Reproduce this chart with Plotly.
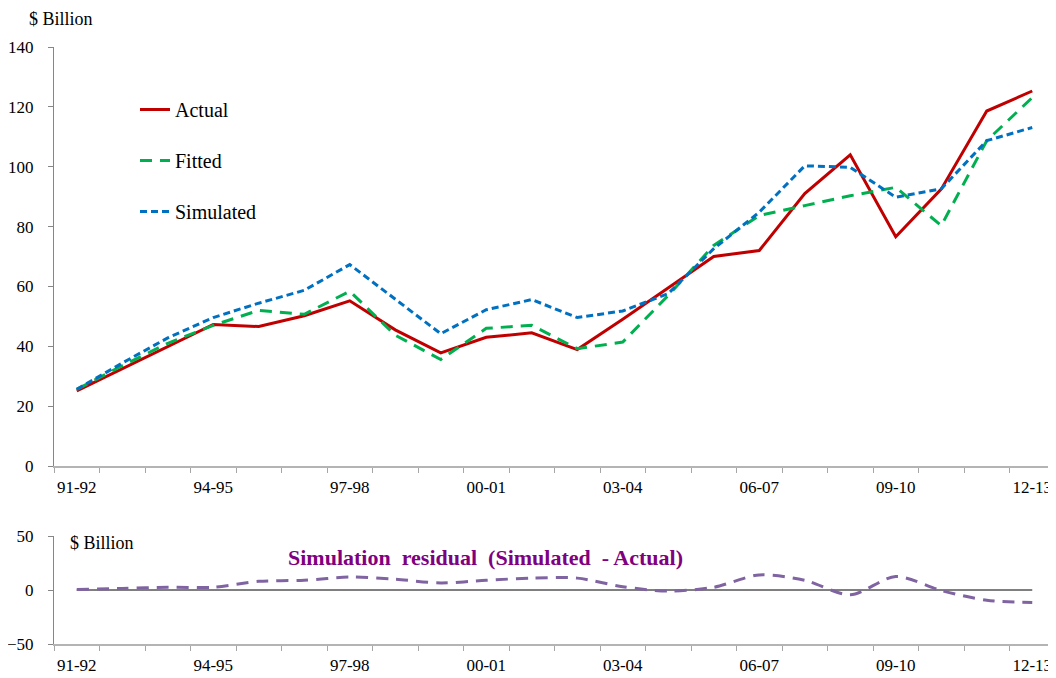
import plotly.graph_objects as go

categories = ["91-92", "92-93", "93-94", "94-95", "95-96", "96-97", "97-98", "98-99",
              "99-00", "00-01", "01-02", "02-03", "03-04", "04-05", "05-06", "06-07",
              "07-08", "08-09", "09-10", "10-11", "11-12", "12-13"]
tick_labels = ["91-92", "", "", "94-95", "", "", "97-98", "", "", "00-01", "", "",
               "03-04", "", "", "06-07", "", "", "09-10", "", "", "12-13"]

actual = [25.1, 32.5, 40.0, 47.3, 46.6, 50.2, 55.2, 45.5, 37.8, 43.0, 44.5, 38.9,
          49.0, 59.5, 70.0, 72.0, 91.0, 104.0, 76.6, 92.5, 118.6, 125.3]
fitted = [25.6, 33.5, 41.0, 47.0, 52.0, 50.7, 58.4, 43.7, 35.6, 46.0, 47.0, 39.2,
          41.4, 57.0, 73.7, 83.7, 87.0, 90.3, 93.1, 80.3, 108.7, 123.1]
simulated = [25.6, 34.4, 42.8, 49.6, 54.4, 58.7, 67.3, 55.8, 44.2, 52.2, 55.6, 49.6,
             51.8, 57.6, 72.6, 84.8, 100.3, 99.8, 89.8, 92.6, 108.7, 113.1]
residual = [0.5, 1.5, 2.5, 2.5, 8.0, 9.0, 12.0, 10.0, 6.5, 9.0, 11.0, 11.0,
            3.0, -1.0, 2.5, 14.0, 9.0, -4.5, 12.5, -0.5, -9.5, -11.5]
baseline = [0, 0, 0, 0, 0, 0, 0, 0, 0, 0, 0, 0, 0, 0, 0, 0, 0, 0, 0, 0, 0, 0]

# page has an 8px body margin: the figure starts at (8, 8)
OFF = 8
W, H = 1056 - OFF, 678 - OFF
ML, MR, MT, MB = 54 - OFF, 1, 47 - OFF, 34
PW = W - ML - MR
PH = H - MT - MB


def px_x(page_x):
    return (page_x - OFF - ML) / PW


def px_y(page_y):
    return (H - MB - (page_y - OFF)) / PH


FONT = "Liberation Serif"

fig = go.Figure()
fig.add_trace(go.Scatter(x=categories, y=actual, name="Actual", mode="lines",
                         line=dict(color="#C00000", width=3), legendgroup="a",
                         xaxis="x", yaxis="y"))
fig.add_trace(go.Scatter(x=categories, y=fitted, name="Fitted", mode="lines",
                         line=dict(color="#00B050", width=3, dash="12px,8px"),
                         legendgroup="b", xaxis="x", yaxis="y"))
fig.add_trace(go.Scatter(x=categories, y=simulated, name="Simulated", mode="lines",
                         line=dict(color="#0070C0", width=3, dash="7px,4px"),
                         legendgroup="c", xaxis="x", yaxis="y"))
fig.add_trace(go.Scatter(x=categories, y=baseline, mode="lines", showlegend=False,
                         line=dict(color="#000000", width=1), xaxis="x2", yaxis="y2"))
fig.add_trace(go.Scatter(x=categories, y=residual, mode="lines", showlegend=False,
                         line=dict(color="#8064A2", width=3, dash="12px,8px",
                                   shape="spline", smoothing=0.8),
                         xaxis="x2", yaxis="y2"))

top_lo = px_y(466)
bot_hi = px_y(536)

xaxis_common = dict(
    type="category", categoryorder="array", categoryarray=categories,
    tickmode="array", tickvals=categories, ticktext=tick_labels, tickangle=0,
    tickson="boundaries", ticks="outside", ticklen=5, tickcolor="#A6A6A6",
    showline=True, linecolor="#B4B4B4", linewidth=2, showgrid=False, zeroline=False,
    range=[-0.5, 21.5], tickfont=dict(family=FONT, size=17, color="#000000"),
    domain=[0, 1], ticklabelstandoff=5,
)
yaxis_common = dict(
    ticks="outside", ticklen=5, tickcolor="#868686", showline=True,
    linecolor="#868686", linewidth=1, showgrid=False, zeroline=False,
    tickfont=dict(family=FONT, size=17, color="#000000"), ticklabelstandoff=11,
)

fig.update_layout(
    width=W, height=H,
    margin=dict(l=ML, r=MR, t=MT, b=MB, autoexpand=False),
    paper_bgcolor="white", plot_bgcolor="white",
    xaxis=dict(**xaxis_common, anchor="y"),
    xaxis2=dict(**xaxis_common, anchor="y2"),
    yaxis=dict(**yaxis_common, domain=[top_lo, 1], range=[0, 140], dtick=20, anchor="x"),
    yaxis2=dict(**yaxis_common, domain=[0, bot_hi], range=[-50, 50], dtick=50, anchor="x2"),
    showlegend=True,
    legend=dict(x=px_x(135), y=px_y(90), xanchor="left", yanchor="top",
                font=dict(family=FONT, size=20, color="#000000"),
                tracegroupgap=22, bgcolor="rgba(0,0,0,0)", traceorder="grouped"),
    annotations=[
        dict(text="$ Billion", xref="paper", yref="paper", x=px_x(27), y=px_y(19),
             xanchor="left", yanchor="middle", showarrow=False,
             font=dict(family=FONT, size=18, color="#000000")),
        dict(text="$ Billion", xref="paper", yref="paper", x=px_x(68), y=px_y(543),
             xanchor="left", yanchor="middle", showarrow=False,
             font=dict(family=FONT, size=18, color="#000000")),
        dict(text="<b>Simulation  residual  (Simulated  - Actual)</b>", xref="paper",
             yref="paper", x=px_x(485), y=px_y(557), xanchor="center", yanchor="middle",
             showarrow=False, font=dict(family=FONT, size=22, color="#800080")),
    ],
)

fig.write_html("out.html")
